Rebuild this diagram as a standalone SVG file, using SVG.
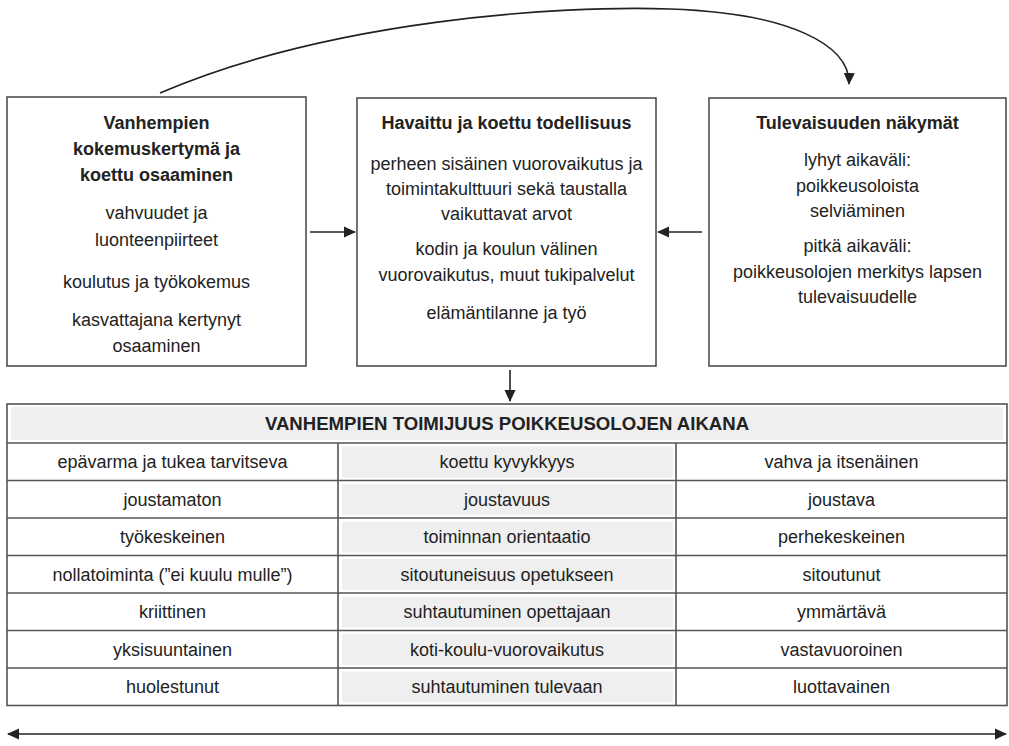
<svg xmlns="http://www.w3.org/2000/svg" width="1009" height="746" viewBox="0 0 1009 746">
<defs>
<marker id="ah" viewBox="0 0 12 12" refX="11" refY="6" markerWidth="12" markerHeight="12" markerUnits="userSpaceOnUse" orient="auto-start-reverse">
<path d="M0,0.5 L12,6 L0,11.5 Z" fill="#222"/>
</marker>
<style>
text{font-family:"Liberation Sans",Arial,sans-serif;font-size:18px;fill:#222;text-anchor:middle}
.b{font-weight:bold}
.h{font-size:18.6px}
.box{fill:#fff;stroke:#444;stroke-width:1.5}
.con{fill:none;stroke:#222;stroke-width:1.6}
.grid{stroke:#555;stroke-width:1.6;fill:none}
.gray{fill:#efefef}
</style>
</defs>
<rect width="1009" height="746" fill="#fff"/>
<g id="connectors">
<path class="con" d="M160,93 C330,20 560,5 670,9 C790,13 850,45 849,84" marker-end="url(#ah)"/>
<line class="con" x1="310" y1="232" x2="355" y2="232" marker-end="url(#ah)"/>
<line class="con" x1="702" y1="232" x2="658" y2="232" marker-end="url(#ah)"/>
<line class="con" x1="510" y1="370" x2="510" y2="401" marker-end="url(#ah)"/>
<line class="con" x1="8" y1="734" x2="1006" y2="734" marker-start="url(#ah)" marker-end="url(#ah)"/>
</g>
<g id="box1">
<rect class="box" x="7" y="97" width="299" height="269"/>
<text class="b" x="156.5" y="129">Vanhempien</text>
<text class="b" x="156.5" y="155">kokemuskertymä ja</text>
<text class="b" x="156.5" y="181">koettu osaaminen</text>
<text x="156.5" y="219">vahvuudet ja</text>
<text x="156.5" y="246">luonteenpiirteet</text>
<text x="156.5" y="288">koulutus ja työkokemus</text>
<text x="156.5" y="326">kasvattajana kertynyt</text>
<text x="156.5" y="352">osaaminen</text>
</g>
<g id="box2">
<rect class="box" x="357" y="98" width="299" height="268"/>
<text class="b" x="506.5" y="129">Havaittu ja koettu todellisuus</text>
<text x="506.5" y="170">perheen sisäinen vuorovaikutus ja</text>
<text x="506.5" y="195">toimintakulttuuri sekä taustalla</text>
<text x="506.5" y="220">vaikuttavat arvot</text>
<text x="506.5" y="255">kodin ja koulun välinen</text>
<text x="506.5" y="281">vuorovaikutus, muut tukipalvelut</text>
<text x="506.5" y="319">elämäntilanne ja työ</text>
</g>
<g id="box3">
<rect class="box" x="709" y="98" width="297" height="268"/>
<text class="b" x="857.5" y="129">Tulevaisuuden näkymät</text>
<text x="857.5" y="166">lyhyt aikaväli:</text>
<text x="857.5" y="192">poikkeusoloista</text>
<text x="857.5" y="217">selviäminen</text>
<text x="857.5" y="252">pitkä aikaväli:</text>
<text x="857.5" y="278">poikkeusolojen merkitys lapsen</text>
<text x="857.5" y="303">tulevaisuudelle</text>
</g>
<g id="table">
<rect x="7" y="404" width="1000" height="301.5" fill="#fff"/>
<rect class="gray" x="11" y="407" width="992" height="33"/>
<rect class="gray" x="342" y="446.5" width="331" height="31"/>
<rect class="gray" x="342" y="484" width="331" height="31"/>
<rect class="gray" x="342" y="521.5" width="331" height="31"/>
<rect class="gray" x="342" y="559" width="331" height="31"/>
<rect class="gray" x="342" y="596.5" width="331" height="31"/>
<rect class="gray" x="342" y="634" width="331" height="31"/>
<rect class="gray" x="342" y="671.5" width="331" height="31"/>
<rect class="grid" x="7" y="404" width="1000" height="301.5"/>
<path class="grid" d="M7,443H1007M7,480.5H1007M7,518H1007M7,555.5H1007M7,593H1007M7,630.5H1007M7,668H1007M338,443V705.5M676,443V705.5"/>
<text class="b h" x="507" y="430">VANHEMPIEN TOIMIJUUS POIKKEUSOLOJEN AIKANA</text>
<text x="172.5" y="468">epävarma ja tukea tarvitseva</text>
<text x="507" y="468">koettu kyvykkyys</text>
<text x="841.5" y="468">vahva ja itsenäinen</text>
<text x="172.5" y="505.5">joustamaton</text>
<text x="507" y="505.5">joustavuus</text>
<text x="841.5" y="505.5">joustava</text>
<text x="172.5" y="543">työkeskeinen</text>
<text x="507" y="543">toiminnan orientaatio</text>
<text x="841.5" y="543">perhekeskeinen</text>
<text x="172.5" y="580.5">nollatoiminta (”ei kuulu mulle”)</text>
<text x="507" y="580.5">sitoutuneisuus opetukseen</text>
<text x="841.5" y="580.5">sitoutunut</text>
<text x="172.5" y="618">kriittinen</text>
<text x="507" y="618">suhtautuminen opettajaan</text>
<text x="841.5" y="618">ymmärtävä</text>
<text x="172.5" y="655.5">yksisuuntainen</text>
<text x="507" y="655.5">koti-koulu-vuorovaikutus</text>
<text x="841.5" y="655.5">vastavuoroinen</text>
<text x="172.5" y="693">huolestunut</text>
<text x="507" y="693">suhtautuminen tulevaan</text>
<text x="841.5" y="693">luottavainen</text>
</g>
</svg>
